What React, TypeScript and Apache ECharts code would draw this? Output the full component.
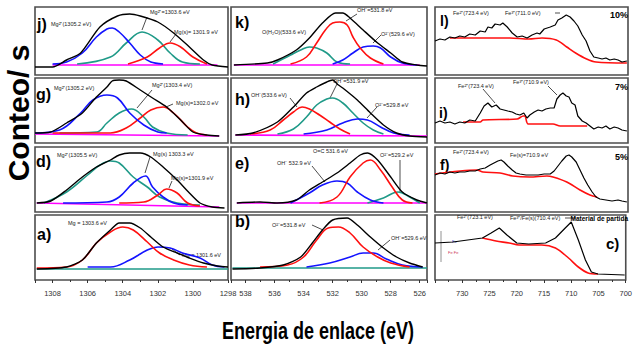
import React, { useEffect, useRef } from "react";
import * as echarts from "echarts";

// ---------- DATA (binding energy eV, counts in arbitrary units) ----------
// Column 1: Mg 1s
const jEnv = [[1309,8],[1308,8],[1307.2,15],[1306.4,22],[1305.3,48],[1304.3,59],[1303.6,61],[1303.0,59],[1302.0,53],[1301.1,42],[1300.2,28],[1299.4,15],[1298.9,10],[1298,8]];
const jBlue = [[1308,11],[1307.2,13],[1306.3,22],[1305.5,38],[1304.9,46],[1304.6,47],[1304.2,43],[1303.6,32],[1303.0,20],[1302.4,13],[1301.7,11]];
const jTeal = [[1306.6,11],[1304.7,18],[1303.8,32],[1302.9,43],[1302.0,35],[1301.3,22],[1300.6,13],[1299.6,11]];
const jRed = [[1303.7,11],[1302.6,18],[1301.9,27],[1301.3,32],[1300.7,28],[1300.0,18],[1299.2,11]];
const jBase = [[1308,10],[1298.6,10]];

const gEnv = [[1309,10],[1308.1,11],[1307.2,20],[1306.3,30],[1305.5,46],[1304.9,56],[1304.6,62],[1304.2,63],[1303.8,62],[1303.0,53],[1302.3,45],[1301.5,36],[1300.7,23],[1300.0,11],[1299.2,8],[1298.5,7]];
const gBlue = [[1309,10],[1307.6,13],[1306.4,30],[1305.7,43],[1304.9,48],[1304.3,45],[1303.6,30],[1302.8,18],[1302.0,11],[1301.5,10]];
const gTeal = [[1307.6,10],[1305.5,11],[1304.9,20],[1304.2,30],[1303.5,34],[1302.8,26],[1302.3,16],[1301.5,10],[1300.3,8]];
const gRed = [[1308,10],[1304.7,10],[1303.8,15],[1303.0,25],[1302.4,33],[1301.7,36],[1301.1,30],[1300.3,16],[1299.8,10],[1299.2,8]];
const gBase = [[1309,9],[1298.5,7]];

const dEnv = [[1308.9,9],[1308.1,11],[1307.2,22],[1306.3,35],[1305.5,45],[1304.7,52],[1304.2,57],[1303.6,59],[1303.0,59],[1302.4,55],[1301.7,45],[1300.9,32],[1300.2,19],[1299.6,9],[1298.9,5],[1298.2,4]];
const dTeal = [[1308.5,9],[1307.2,20],[1306.0,37],[1305.3,47],[1304.7,51],[1304.2,49],[1303.4,35],[1302.6,25],[1301.9,15],[1300.9,9],[1299.6,7]];
const dBlue = [[1307.4,9],[1304.9,10],[1304.2,15],[1303.4,29],[1302.7,36],[1302.3,25],[1301.7,15],[1301.1,9],[1300.3,7]];
const dRed = [[1304.2,9],[1302.8,10],[1302.0,17],[1301.5,23],[1300.9,19],[1300.3,9],[1299.6,6]];
const dBase = [[1308.9,9],[1298.5,5]];

const aEnv = [[1308.9,11],[1307.2,13],[1306.3,20],[1305.5,37],[1304.7,50],[1304.2,57],[1303.6,57],[1303.0,52],[1302.4,43],[1301.7,33],[1300.9,27],[1300.2,22],[1299.4,17],[1298.6,14],[1298.0,13]];
const aRed = [[1308.9,12],[1307.2,13],[1306.3,20],[1305.5,37],[1304.7,48],[1304.0,53],[1303.4,50],[1302.6,38],[1301.9,27],[1301.1,20],[1300.2,15],[1299.2,13]];
const aBlue = [[1306.0,13],[1304.7,13],[1303.6,20],[1302.6,30],[1302.0,33],[1301.3,32],[1300.6,27],[1299.6,22],[1298.9,15],[1298.2,13]];
const aBase = [[1308.9,11],[1298,11]];

// Column 2: O 1s
const kEnv = [[538.8,10],[536.5,12],[535.8,15],[534.5,25],[533.6,37],[532.7,52],[531.8,62],[531.3,62],[530.8,57],[529.9,45],[528.9,32],[528.0,22],[527.2,13],[526.2,10],[525.5,9]];
const kRed = [[534.9,11],[533.8,18],[533.1,32],[532.5,45],[532.0,52],[531.5,53],[531.0,50],[530.6,38],[530.1,27],[529.4,17],[528.5,11]];
const kTeal = [[536.1,11],[534.9,20],[534.2,25],[533.6,28],[533.1,27],[532.4,22],[531.7,13],[530.8,11]];
const kBlue = [[532.0,11],[531.3,15],[530.6,22],[529.9,28],[529.2,29],[528.7,27],[528.0,18],[527.2,12],[526.2,10]];
const kBase = [[538.8,10],[526.0,10]];

const hEnv = [[538.7,8],[537.5,10],[535.8,21],[534.7,36],[533.8,50],[533.1,56],[532.4,61],[532.0,63],[531.6,58],[531.3,55],[530.3,43],[529.4,30],[528.5,18],[527.6,10],[526.7,7],[525.5,6]];
const hRed = [[537.7,9],[536.3,13],[535.4,23],[534.7,31],[534.1,36],[533.6,34],[532.9,28],[532.2,21],[531.5,14],[530.8,9]];
const hTeal = [[535.8,9],[534.7,14],[533.8,26],[533.1,38],[532.4,44],[532.0,45],[531.3,40],[530.6,30],[529.9,20],[529.2,13],[528.5,9]];
const hBlue = [[534.0,9],[532.4,13],[531.3,20],[530.3,24],[529.6,23],[528.7,16],[527.8,10],[526.7,8]];
const hBase = [[538.7,8],[525.5,7]];

const eEnv = [[538.6,9],[537.0,10],[535.8,9],[534.5,12],[533.6,22],[532.7,30],[531.7,39],[530.8,49],[530.1,57],[529.6,59],[528.9,52],[528.0,35],[527.2,20],[526.2,12],[525.5,9]];
const eBlue = [[534.9,9],[533.6,19],[532.7,27],[531.7,31],[531.0,29],[530.3,20],[529.4,12],[528.5,9]];
const eRed = [[532.9,9],[531.7,15],[530.8,35],[529.9,49],[529.4,52],[528.7,42],[527.9,25],[527.2,12],[526.5,9]];
const eTeal = [[529.6,9],[528.5,14],[527.5,20],[526.7,15],[526.0,9]];
const eBase = [[538.6,9],[525.5,9]];

const bEnv = [[538.9,11],[537.0,12],[535.4,15],[534.2,23],[533.4,37],[532.7,50],[532.0,60],[531.0,62],[530.3,55],[529.4,43],[528.5,32],[527.6,23],[526.7,17],[525.8,13]];
const bRed = [[537.0,13],[535.1,15],[534.0,23],[533.1,40],[532.3,52],[531.6,53],[530.8,47],[529.9,33],[528.9,23],[528.0,17],[526.7,13]];
const bBlue = [[533.8,13],[532.2,17],[530.8,23],[529.9,27],[529.2,27],[528.3,21],[527.2,15],[525.8,13]];
const bBase = [[538.9,12],[525.5,12]];

// Column 3: Fe 2p
const lRaw = [[735,34],[734.1,36],[733.2,35],[732.3,38],[731.4,37],[730.5,39],[729.6,38],[728.7,41],[727.7,40],[726.8,44],[725.9,43],[725.4,48],[724.7,47],[724.1,51],[723.2,50],[722.7,52],[721.9,48],[721.0,42],[720.1,38],[719.2,39],[718.3,37],[717.4,40],[716.5,42],[716.0,41],[715.2,46],[714.1,48],[713.2,50],[712.7,55],[712.0,57],[711.2,60],[710.5,58],[709.8,54],[709.1,49],[708.3,40],[707.6,34],[706.9,24],[706.2,18],[705.4,17],[704.7,16],[704.0,17],[703.3,15],[702.5,16],[701.8,15],[701.1,13],[700.2,14]];
const lBg = [[732.3,37],[721.4,37],[718.0,36],[715.6,37],[713.0,35],[711.1,28],[709.5,22],[707.5,16],[705.8,13],[700.2,12]];

const iRaw = [[735,20],[734.1,22],[733.2,20],[732.3,21],[731.4,19],[730.5,21],[729.6,20],[728.7,23],[727.7,22],[726.8,30],[726.1,37],[725.4,40],[724.7,36],[723.9,38],[723.2,34],[722.5,33],[721.8,32],[721.0,31],[720.3,29],[719.6,28],[718.9,30],[718.3,25],[717.8,28],[717.0,31],[716.3,33],[715.6,32],[714.9,34],[714.1,35],[713.4,35],[712.9,44],[712.3,48],[711.8,50],[711.2,47],[710.7,46],[710.2,40],[709.6,38],[709.1,27],[708.3,22],[707.6,20],[706.9,17],[706.2,14],[705.4,16],[704.7,15],[704.0,17],[703.3,14],[702.5,16],[701.8,15],[701.1,13],[700.2,12]];
const iBg = [[729.9,21],[726.8,21],[726.3,23],[720.1,24],[719.0,27],[718.7,27],[718.1,19],[713.6,19],[712.3,17],[707.4,17]];

const fRaw = [[735,37],[734.1,39],[733.2,38],[732.3,40],[731.4,39],[730.5,40],[729.6,40],[728.7,41],[727.7,41],[726.8,43],[725.9,44],[725.0,47],[724.3,49],[723.6,51],[723.0,52],[722.5,50],[721.8,46],[721.0,42],[720.3,39],[719.6,38],[718.5,37],[717.4,37],[716.3,37],[715.2,38],[714.1,38],[713.4,41],[712.7,46],[712.0,51],[711.2,56],[710.7,57],[710.2,55],[709.4,50],[708.7,42],[708.0,34],[707.3,27],[706.5,20],[705.8,15],[705.1,13],[704.0,12],[702.9,11],[701.8,12],[701.1,11],[700.2,10]];
const fBg = [[735,38],[727.4,42],[726.3,40],[723.2,39],[720.9,36],[717.8,35],[714.7,36],[713.6,35],[711.1,30],[708.7,22],[706.9,17],[705.6,15]];

const cRaw = [[735,37],[731.7,38],[726.3,42],[724.7,47],[723.2,52],[721.8,45],[720.0,37],[717.8,36],[714.7,37],[712.9,42],[711.1,52],[710.0,58],[708.7,40],[707.4,20],[706.3,8],[705.1,6],[700.2,5]];
const cBg = [[726.3,42],[723.8,39],[721.4,37],[719.6,35],[715.4,35],[712.9,32],[710.5,22],[708.7,13],[706.9,7],[705.1,6]];

// Tick label steps per column
const colTickSteps = [2, 2, 5];

// ---------- LAYOUT ----------
const ROWS = [
  { top: 7, height: 68 },
  { top: 78, height: 65 },
  { top: 147, height: 65 },
  { top: 215, height: 65 },
];
const COLS = [
  { left: 35, width: 193, min: 1298, max: 1309, interval: 2 as number | undefined },
  { left: 231, width: 196, min: 525.5, max: 539, interval: undefined as number | undefined },
  { left: 435, width: 193, min: 700, max: 735, interval: 5 as number | undefined },
];

const BLACK = "#000000";
const BLUE = "#1414ff";
const TEAL = "#1f9a88";
const RED = "#ff1010";
const MAG = "#ff00ff";

type Curve = { data: number[][]; color: string; width?: number; smooth?: number | boolean; z?: number };
type Panel = { row: number; col: number; letter: string; curves: Curve[] };

const fit = (env: number[][], comps: [number[][], string][], base: number[][], baseColor = MAG): Curve[] => [
  { data: base, color: baseColor, width: 1.6, smooth: false, z: 2 },
  ...comps.map(([d, c]) => ({ data: d, color: c, width: 1.6, smooth: 0.4, z: 3 })),
  { data: env, color: BLACK, width: 1.4, smooth: 0.25, z: 4 },
];
const raw = (d: number[][], bg: number[][]): Curve[] => [
  { data: bg, color: RED, width: 1.6, smooth: 0.3, z: 3 },
  { data: d, color: BLACK, width: 1.2, smooth: false, z: 4 },
];

const PANELS: Panel[] = [
  { row: 0, col: 0, letter: "j)", curves: fit(jEnv, [[jTeal, TEAL], [jBlue, BLUE], [jRed, RED]], jBase) },
  { row: 0, col: 1, letter: "k)", curves: fit(kEnv, [[kTeal, TEAL], [kBlue, BLUE], [kRed, RED]], kBase) },
  { row: 0, col: 2, letter: "l)", curves: raw(lRaw, lBg) },
  { row: 1, col: 0, letter: "g)", curves: fit(gEnv, [[gTeal, TEAL], [gRed, RED], [gBlue, BLUE]], gBase) },
  { row: 1, col: 1, letter: "h)", curves: fit(hEnv, [[hTeal, TEAL], [hBlue, BLUE], [hRed, RED]], hBase) },
  { row: 1, col: 2, letter: "i)", curves: raw(iRaw, iBg) },
  { row: 2, col: 0, letter: "d)", curves: fit(dEnv, [[dTeal, TEAL], [dBlue, BLUE], [dRed, RED]], dBase) },
  { row: 2, col: 1, letter: "e)", curves: fit(eEnv, [[eTeal, TEAL], [eBlue, BLUE], [eRed, RED]], eBase) },
  { row: 2, col: 2, letter: "f)", curves: raw(fRaw, fBg) },
  { row: 3, col: 0, letter: "a)", curves: fit(aEnv, [[aBlue, BLUE], [aRed, RED]], aBase, TEAL) },
  { row: 3, col: 1, letter: "b)", curves: fit(bEnv, [[bBlue, BLUE], [bRed, RED]], bBase, TEAL) },
  { row: 3, col: 2, letter: "c)", curves: raw(cRaw, cBg) },
];

const LETTER_POS: Record<string, [number, number, number]> = {
  "j)": [37, 24, 16], "k)": [235, 22, 16], "l)": [440, 21, 14],
  "g)": [36, 94, 16], "h)": [235, 99, 16], "i)": [439, 113, 14],
  "d)": [36, 161, 16], "e)": [235, 163, 16], "f)": [440, 165, 14],
  "a)": [37, 234, 16], "b)": [235, 221, 16], "c)": [606, 243, 15],
};

const PEAK_LABELS: [string, number, number][] = [
  ["Mg²⁺(1305.2 eV)", 51, 24], ["Mg²⁺=1303.6 eV", 150, 12], ["Mg(s)= 1301.9 eV", 174, 32],
  ["O(H₂O)(533.6 eV)", 262, 32], ["OH⁻=531.8 eV", 357, 10], ["O²⁻(529.6 eV)", 381, 34],
  ["Fe²⁺(723.4 eV)", 453, 13], ["Fe³⁺(711.0 eV)", 505, 13],
  ["Mg²⁺(1305.2 eV)", 54, 88], ["Mg²⁺(1303.4 eV)", 152, 85], ["Mg(s)=1302.0 eV", 176, 103],
  ["OH⁻(533.6 eV)", 251, 95], ["OH⁻=531.9 eV", 333, 81], ["O²⁻=529.8 eV", 375, 105],
  ["Fe²⁺(723.4 eV)", 458, 86], ["Fe³⁺(710.9 eV)", 513, 82],
  ["Mg²⁺(1305.5 eV)", 57, 155], ["Mg(s) 1303.3 eV", 153, 154], ["Mg(s)=1301.9 eV", 171, 178],
  ["OH⁻ 532.9 eV", 277, 163], ["O=C 531.6 eV", 313, 151], ["O²⁻=529.2 eV", 380, 155],
  ["Fe²⁺(723.4 eV)", 453, 152], ["Fe(s)=710.9 eV", 510, 155],
  ["Mg = 1303.6 eV", 68, 223], ["Mg = 1301.6 eV", 182, 255],
  ["O²⁻=531.8 eV", 272, 225], ["OH⁻=529.6 eV", 391, 238],
  ["Fe²⁺(723.1 eV)", 457, 217], ["Fe³⁺/Fe(s)(710.4 eV)", 510, 218],
];

const LEADERS: [number, number, number, number][] = [
  [147, 17, 142, 30], [176, 34, 170, 42],
  [357, 14, 346, 21], [381, 35, 373, 43],
  [152, 90, 137, 108], [173, 104, 166, 107],
  [337, 84, 330, 98], [377, 107, 367, 118], [290, 98, 297, 107],
  [483, 89, 495, 103], [548, 86, 557, 95],
  [150, 157, 145, 173], [172, 181, 169, 188],
  [312, 166, 325, 182], [400, 160, 400, 192],
  [180, 255, 172, 249], [312, 225, 323, 230], [390, 240, 378, 250],
  [565, 218, 576, 218], [555, 13, 560, 13],
];

const PERCENTS: [string, number, number][] = [["10%", 628, 15], ["7%", 628, 87], ["5%", 628, 157]];

export default function App() {
  const ref = useRef<HTMLDivElement>(null);
  useEffect(() => {
    if (!ref.current) return;
    const chart = echarts.init(ref.current, undefined, { renderer: "svg" });
    const grid: any[] = [], xAxis: any[] = [], yAxis: any[] = [], series: any[] = [];
    PANELS.forEach((p, i) => {
      const r = ROWS[p.row], c = COLS[p.col];
      const bottomRow = p.row === 3;
      const step = colTickSteps[p.col];
      grid.push({ left: c.left, top: r.top, width: c.width, height: r.height, show: true, borderColor: "#4d4d4d", borderWidth: 1.6, backgroundColor: "#ffffff" });
      xAxis.push({
        type: "value", gridIndex: i, min: c.min, max: c.max, inverse: true,
        ...(c.interval ? { interval: c.interval } : { minInterval: 2, maxInterval: 2 }),
        axisLine: { show: false },
        axisTick: { show: bottomRow, length: 3, lineStyle: { color: "#333", width: 1 } },
        minorTick: { show: bottomRow, splitNumber: 2, length: 2, lineStyle: { color: "#333" } },
        splitLine: { show: false },
        axisLabel: {
          show: bottomRow, fontSize: 7.5, color: "#333", margin: 9, fontFamily: "Liberation Sans",
          showMaxLabel: false, showMinLabel: p.col !== 1,
          formatter: (v: number) => (Math.abs(v % step) < 1e-6 ? String(v) : ""),
        },
      });
      yAxis.push({ type: "value", gridIndex: i, min: 0, max: r.height, show: false });
      p.curves.forEach((cv) => {
        series.push({
          type: "line", xAxisIndex: i, yAxisIndex: i, data: cv.data, showSymbol: false, symbol: "none",
          smooth: cv.smooth, lineStyle: { color: cv.color, width: cv.width }, silent: true, z: cv.z,
        });
      });
    });

    const graphic: any[] = [];
    PANELS.forEach((p) => {
      const [x, y, fs] = LETTER_POS[p.letter];
      graphic.push({ type: "text", x, y, style: { text: p.letter, fontSize: fs, fontWeight: "bold", fill: "#000", fontFamily: "Liberation Sans", verticalAlign: "middle" } });
    });
    PEAK_LABELS.forEach(([t, x, y]) => {
      graphic.push({ type: "text", x, y, style: { text: t, fontSize: 5.5, fill: "#222", fontFamily: "Liberation Sans", verticalAlign: "middle" } });
    });
    LEADERS.forEach(([x1, y1, x2, y2]) => {
      graphic.push({ type: "line", shape: { x1, y1, x2, y2 }, style: { stroke: "#000", lineWidth: 0.7 } });
    });
    PERCENTS.forEach(([t, x, y]) => {
      graphic.push({ type: "text", x, y, style: { text: t, fontSize: 9, fontWeight: "bold", fill: "#000", fontFamily: "Liberation Sans", align: "right", verticalAlign: "middle" } });
    });
    graphic.push({ type: "text", x: 628, y: 218, style: { text: "Material de partida", fontSize: 6.5, fontWeight: "bold", fill: "#000", fontFamily: "Liberation Sans", align: "right", verticalAlign: "middle" } });
    // small legend in panel c
    graphic.push({ type: "line", shape: { x1: 441, y1: 231, x2: 441, y2: 262 }, style: { stroke: "#777", lineWidth: 0.8 } });
    graphic.push({ type: "text", x: 452, y: 241, style: { text: "Fe", fontSize: 4, fill: "#2233cc", fontFamily: "Liberation Sans", verticalAlign: "middle" } });
    graphic.push({ type: "text", x: 448, y: 252, style: { text: "Fe Fe", fontSize: 4, fill: "#cc3355", fontFamily: "Liberation Sans", verticalAlign: "middle" } });
    // axis titles
    graphic.push({ type: "text", x: 18, y: 113, rotation: Math.PI / 2, style: { text: "Conteo/ s", fontSize: 30, fontWeight: "bold", fill: "#000", fontFamily: "Liberation Sans", align: "center", verticalAlign: "middle" } });
    graphic.push({ type: "text", x: 318, y: 331, scaleY: 1.3, style: { text: "Energia de enlace (eV)", fontSize: 18, fontWeight: "bold", fill: "#000", fontFamily: "Liberation Sans", align: "center", verticalAlign: "middle" } });

    chart.setOption({ animation: false, backgroundColor: "#ffffff", grid, xAxis, yAxis, series, graphic });
    return () => chart.dispose();
  }, []);
  return (
    <div style={{ position: "fixed", left: 0, top: 0, width: 635, height: 360, background: "#fff" }}>
      <div ref={ref} style={{ width: 635, height: 360 }} />
    </div>
  );
}
